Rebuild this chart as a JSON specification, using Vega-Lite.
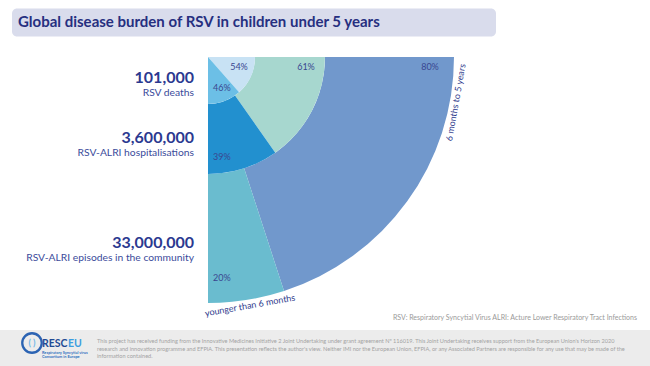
{
  "$schema": "https://vega.github.io/schema/vega-lite/v6.json",
  "width": 416,
  "height": 114,
  "autosize": {"type": "none"},
  "padding": {"left": 0, "top": 0, "right": 234, "bottom": 252},
  "background": "white",
  "config": {"view": {"stroke": null}, "font": "Lato", "text": {"font": "Lato"}},
  "title": {
    "text": "Global disease burden of RSV in children under 5 years",
    "anchor": "start",
    "frame": "group",
    "orient": "top",
    "offset": -42,
    "dx": 18,
    "font": "Lato",
    "fontSize": 15,
    "fontWeight": "bold",
    "color": "#262f80",
    "baseline": "alphabetic"
  },
  "datasets": {
    "burden": [
      {"ring": "deaths", "ring_no": 1, "group": "6 months to 5 years", "order": 1, "share": 0.54, "segment": "deaths-older"},
      {"ring": "deaths", "ring_no": 1, "group": "younger than 6 months", "order": 2, "share": 0.46, "segment": "deaths-younger"},
      {"ring": "hospitalisations", "ring_no": 2, "group": "6 months to 5 years", "order": 1, "share": 0.61, "segment": "hosp-older"},
      {"ring": "hospitalisations", "ring_no": 2, "group": "younger than 6 months", "order": 2, "share": 0.39, "segment": "hosp-younger"},
      {"ring": "episodes", "ring_no": 3, "group": "6 months to 5 years", "order": 1, "share": 0.80, "segment": "episodes-older"},
      {"ring": "episodes", "ring_no": 3, "group": "younger than 6 months", "order": 2, "share": 0.20, "segment": "episodes-younger"}
    ],
    "totals": [
      {"ring_no": 1, "count": "101,000", "desc": "RSV deaths"},
      {"ring_no": 2, "count": "3,600,000", "desc": "RSV-ALRI hospitalisations"},
      {"ring_no": 3, "count": "33,000,000", "desc": "RSV-ALRI episodes in the community"}
    ]
  },
  "data": {"name": "burden"},
  "transform": [
    {"stack": "share", "groupby": ["ring"], "sort": [{"field": "order", "order": "ascending"}], "as": ["s0", "s1"]}
  ],
  "layer": [
    {
      "data": {"values": [{"box": "title"}]},
      "mark": {"type": "rect", "x": 12, "x2": 496, "y": 8.5, "y2": 36.5, "cornerRadius": 5, "fill": "#d9dcec"},
      "encoding": {}
    },
    {
      "data": {"values": [{"box": "footer"}]},
      "mark": {"type": "rect", "x": 0, "x2": 650, "y": 330, "y2": 366, "fill": "#ececec"},
      "encoding": {}
    },
    {
      "transform": [{"filter": "datum.ring_no == 3"}],
      "mark": {"type": "arc", "radius": 246, "radius2": 117},
      "encoding": {
        "theta": {"field": "s0", "type": "quantitative", "scale": {"domain": [0, 1], "range": [1.5708, 3.14159]}},
        "theta2": {"field": "s1"},
        "color": {"field": "segment", "type": "nominal", "legend": null,
          "scale": {"domain": ["deaths-older", "deaths-younger", "hosp-older", "hosp-younger", "episodes-older", "episodes-younger"],
                    "range": ["#c8e2f4", "#6cbfe6", "#a7d7cf", "#2290cf", "#7198cc", "#6abccf"]}}
      }
    },
    {
      "transform": [{"filter": "datum.ring_no == 2"}],
      "mark": {"type": "arc", "radius": 117, "radius2": 47},
      "encoding": {
        "theta": {"field": "s0", "type": "quantitative", "scale": {"domain": [0, 1], "range": [1.5708, 3.14159]}},
        "theta2": {"field": "s1"},
        "color": {"field": "segment", "type": "nominal", "legend": null}
      }
    },
    {
      "transform": [{"filter": "datum.ring_no == 1"}],
      "mark": {"type": "arc", "radius": 47, "radius2": 0},
      "encoding": {
        "theta": {"field": "s0", "type": "quantitative", "scale": {"domain": [0, 1], "range": [1.5708, 3.14159]}},
        "theta2": {"field": "s1"},
        "color": {"field": "segment", "type": "nominal", "legend": null}
      }
    },
    {
      "transform": [{"filter": "datum.order == 1"}],
      "mark": {"type": "text", "align": "center", "baseline": "middle", "dy": 10, "fontSize": 9, "color": "#3a4790"},
      "encoding": {
        "theta": {"field": "s0", "type": "quantitative", "scale": {"domain": [0, 1], "range": [1.5708, 3.14159]}},
        "radius": {"field": "ring_no", "type": "quantitative", "scale": {"type": "linear", "domain": [1, 2, 3], "range": [31, 98, 222], "zero": false}},
        "text": {"field": "share", "type": "quantitative", "format": ".0%"}
      }
    },
    {
      "transform": [{"filter": "datum.order == 2"}],
      "mark": {"type": "text", "align": "left", "baseline": "middle", "dx": 5, "fontSize": 9, "color": "#3a4790"},
      "encoding": {
        "theta": {"field": "s1", "type": "quantitative", "scale": {"domain": [0, 1], "range": [1.5708, 3.14159]}},
        "radius": {"field": "ring_no", "type": "quantitative", "scale": {"type": "linear", "domain": [1, 2, 3], "range": [31, 100, 221], "zero": false}},
        "text": {"field": "share", "type": "quantitative", "format": ".0%"}
      }
    },
    {
      "transform": [{"filter": "datum.ring_no == 3 && datum.order == 1"}],
      "mark": {"type": "text", "align": "center", "baseline": "middle", "radius": 252, "thetaOffset": 0.1815, "angle": 280, "fontSize": 9, "color": "#2e3a8c"},
      "encoding": {
        "theta": {"field": "s0", "type": "quantitative", "scale": {"domain": [0, 1], "range": [1.5708, 3.14159]}},
        "text": {"field": "group", "type": "nominal"}
      }
    },
    {
      "transform": [{"filter": "datum.ring_no == 3 && datum.order == 2"}],
      "mark": {"type": "text", "align": "center", "baseline": "middle", "radius": 252, "thetaOffset": -0.1676, "angle": 350, "fontSize": 9, "color": "#2e3a8c"},
      "encoding": {
        "theta": {"field": "s1", "type": "quantitative", "scale": {"domain": [0, 1], "range": [1.5708, 3.14159]}},
        "text": {"field": "group", "type": "nominal"}
      }
    },
    {
      "data": {"name": "totals"},
      "mark": {"type": "text", "align": "right", "baseline": "alphabetic", "dx": -14, "fontSize": 16, "fontWeight": "bold", "color": "#2b3990"},
      "encoding": {
        "theta": {"datum": 1, "type": "quantitative", "scale": {"domain": [0, 1], "range": [1.5708, 3.14159]}},
        "radius": {"field": "ring_no", "type": "quantitative", "scale": {"type": "linear", "domain": [1, 2, 3], "range": [26, 86, 191], "zero": false}},
        "text": {"field": "count", "type": "nominal"}
      }
    },
    {
      "data": {"name": "totals"},
      "mark": {"type": "text", "align": "right", "baseline": "alphabetic", "dx": -14, "dy": 12.5, "fontSize": 10.3, "color": "#3b4b9b"},
      "encoding": {
        "theta": {"datum": 1, "type": "quantitative", "scale": {"domain": [0, 1], "range": [1.5708, 3.14159]}},
        "radius": {"field": "ring_no", "type": "quantitative", "scale": {"type": "linear", "domain": [1, 2, 3], "range": [26, 86, 191], "zero": false}},
        "text": {"field": "desc", "type": "nominal"}
      }
    },
    {
      "data": {"values": [{"note": "RSV: Respiratory Syncytial Virus ALRI: Acture Lower Respiratory Tract Infections"}]},
      "mark": {"type": "text", "x": 637, "y": 320, "align": "right", "baseline": "alphabetic", "fontSize": 7, "color": "#9a9a9a"},
      "encoding": {"text": {"field": "note", "type": "nominal"}}
    },
    {
      "data": {"values": [{"note": "footer"}]},
      "mark": {"type": "text", "x": 97, "y": 343, "align": "left", "baseline": "alphabetic", "fontSize": 5.6, "lineHeight": 7.7, "color": "#a3a3a3",
        "text": ["This project has received funding from the Innovative Medicines Initiative 2 Joint Undertaking under grant agreement Nº 116019. This Joint Undertaking receives support from the European Union's Horizon 2020", "research and innovation programme and EFPIA. This presentation reflects the author's view. Neither IMI nor the European Union, EFPIA, or any Associated Partners are responsible for any use that may be made of the", "information contained."]},
      "encoding": {}
    },
    {
      "data": {"values": [{"part": "RESC"}]},
      "mark": {"type": "text", "x": 42, "y": 347, "align": "left", "baseline": "alphabetic", "fontSize": 10.5, "fontWeight": "bold", "color": "#1f4a93"},
      "encoding": {"text": {"field": "part", "type": "nominal"}}
    },
    {
      "data": {"values": [{"part": "EU"}]},
      "mark": {"type": "text", "x": 68, "y": 347, "align": "left", "baseline": "alphabetic", "fontSize": 10.5, "fontWeight": "bold", "color": "#3d9ee0"},
      "encoding": {"text": {"field": "part", "type": "nominal"}}
    },
    {
      "data": {"values": [{"note": "logo"}]},
      "mark": {"type": "text", "x": 42, "y": 353.5, "align": "left", "baseline": "alphabetic", "fontSize": 3.9, "lineHeight": 4.3, "fontWeight": "bold", "color": "#3070c0",
        "text": ["Respiratory Syncytial virus", "Consortium in Europe"]},
      "encoding": {}
    },
    {
      "data": {"values": [{"note": "lungs"}]},
      "mark": {"type": "text", "x": 32, "y": 343, "align": "center", "baseline": "middle", "fontSize": 9, "fontWeight": "bold", "color": "#6fb8e8", "text": "( )"},
      "encoding": {}
    },
    {
      "data": {"values": [{"note": "lens"}]},
      "mark": {"type": "point", "shape": "circle", "x": 32, "y": 343, "size": 380, "filled": false, "stroke": "#2b63b3", "strokeWidth": 2.3, "opacity": 1},
      "encoding": {}
    },
    {
      "data": {"values": [{"note": "handle"}]},
      "mark": {"type": "rule", "x": 24.5, "y": 350.5, "x2": 14, "y2": 362, "strokeWidth": 3, "strokeCap": "round", "color": "#2b63b3"},
      "encoding": {}
    }
  ],
  "resolve": {"scale": {"radius": "independent"}}
}
